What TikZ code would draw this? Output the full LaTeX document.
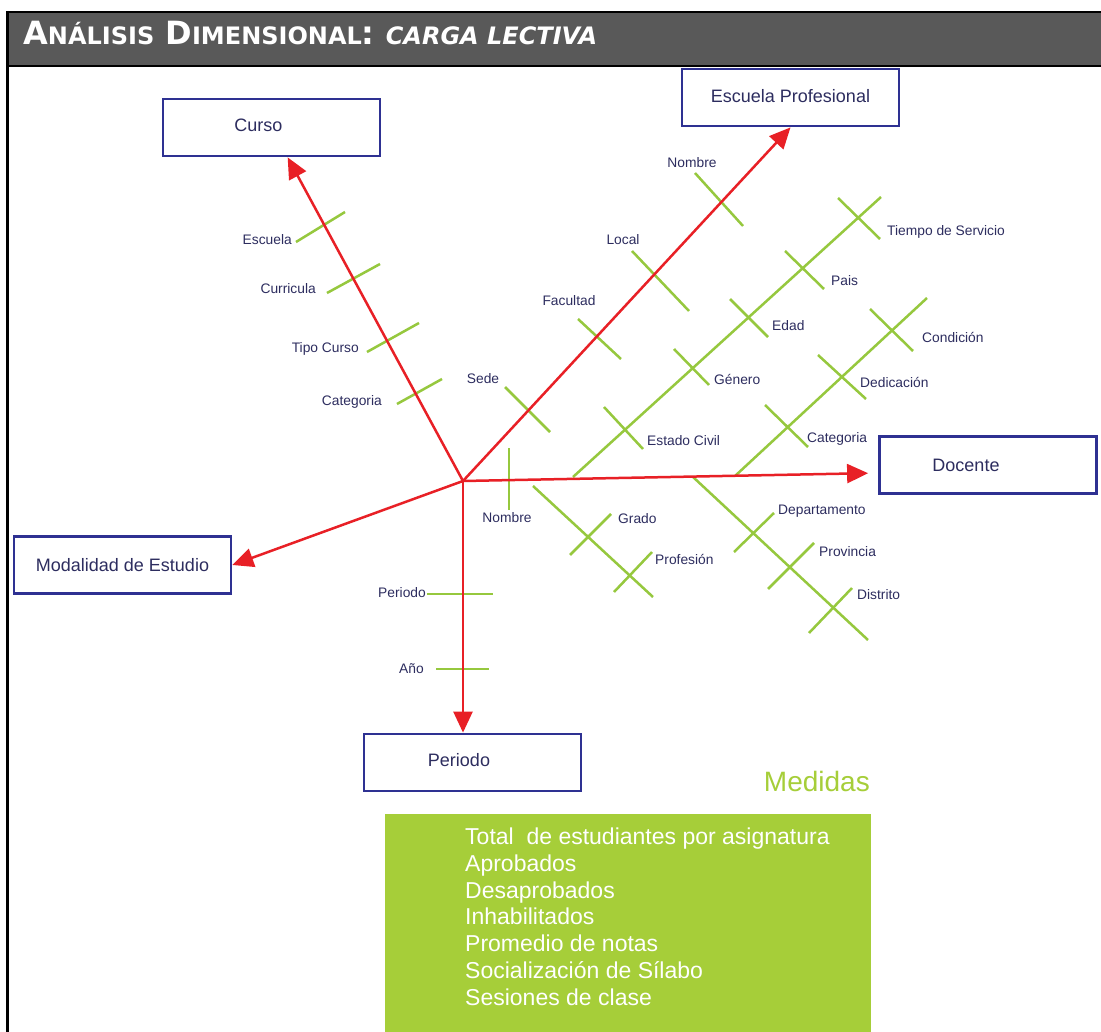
\documentclass[tikz,border=0pt]{standalone}
\usepackage{fontspec}
\setmainfont{Liberation Sans}
\newfontfamily\titlefont{DejaVu Sans}
\usetikzlibrary{arrows.meta}

\definecolor{boxblue}{RGB}{46,49,146}
\definecolor{lblnavy}{RGB}{45,45,95}
\definecolor{axisred}{RGB}{232,32,38}
\definecolor{tickgreen}{RGB}{150,200,62}
\definecolor{medgreen}{RGB}{166,206,57}
\definecolor{headgray}{RGB}{89,89,89}

\newcommand{\smallcap}[1]{{\fontsize{24}{26}\selectfont #1}}

\begin{document}
\begin{tikzpicture}[x=1pt,y=-1pt,
    dimbox/.style={draw=boxblue,line width=2.8pt,fill=white,minimum width=217pt,
        minimum height=57pt,inner sep=0pt,text=lblnavy,font=\fontsize{18}{20}\selectfont},
    axis/.style={draw=axisred,line width=2.5pt,-{Triangle[length=21pt,width=19pt]}},
    tick/.style={draw=tickgreen,line width=2.5pt},
    lbl/.style={text=lblnavy,inner sep=0pt,font=\fontsize{13.8}{15}\selectfont}]
    \useasboundingbox (0,0) rectangle (1101,1032);
    \fill[white] (0,0) rectangle (1101,1032);
    %% Header
    \fill[headgray] (8,12) rectangle (1101,66);
    \draw[line width=2pt] (8,12) -- (1101,12);
    \draw[line width=2pt] (8,66) -- (1101,66);
    \draw[line width=2.5pt] (7.5,11) -- (7.5,1032);
    \node[anchor=base west,inner sep=0pt,text=white] (title) at (23,45)
        {\titlefont\bfseries\fontsize{32}{34}\selectfont A\smallcap{NÁLISIS} D\smallcap{IMENSIONAL}: \itshape\smallcap{CARGA LECTIVA}};
    %% Dimensions
    \coordinate (hub) at (463,481);
    \node[dimbox] (curso) at (271.5,127.5) {\hspace*{-26pt}\raisebox{5pt}{Curso}};
    \node[dimbox] (escuela) at (790.5,97.5) {\raisebox{4pt}{Escuela Profesional}};
    \node[dimbox] (docente) at (988,465) {\hspace*{-44pt}\raisebox{-4pt}{Docente}};
    \node[dimbox] (modalidad) at (122.5,565) {Modalidad de Estudio};
    \node[dimbox] (periodo) at (472.5,762.5) {\hspace*{-27pt}\raisebox{5pt}{Periodo}};
    %% Curso attributes
    \draw[tick] (296,242) -- (345,212);
    \draw[tick] (327,293) -- (380,264);
    \draw[tick] (367,352) -- (419,323);
    \draw[tick] (397,404) -- (442,379);
    \node[lbl,anchor=east] (cEsc) at (292,240) {Escuela};
    \node[lbl,anchor=east] (cCur) at (316,289) {Curricula};
    \node[lbl,anchor=east] (cTip) at (359,349) {Tipo Curso};
    \node[lbl,anchor=east] (cCat) at (382,402) {Categoria};
    %% Escuela Profesional attributes
    \draw[tick] (695,173) -- (743,226);
    \draw[tick] (632,251) -- (689,311);
    \draw[tick] (578,319) -- (621,359);
    \draw[tick] (505,387) -- (550,432);
    \node[lbl] (eNom) at (692,163) {Nombre};
    \node[lbl] (eLoc) at (623,240) {Local};
    \node[lbl] (eFac) at (569,301) {Facultad};
    \node[lbl] (eSed) at (483,379) {Sede};
    %% Docente attributes, upper side
    \draw[tick] (573,477) -- (881,197);
    \draw[tick] (604,407) -- (643,449);
    \draw[tick] (674,349) -- (709,385);
    \draw[tick] (730,299) -- (768,337);
    \draw[tick] (785,251) -- (824,289);
    \draw[tick] (838,198) -- (880,239);
    \node[lbl,anchor=west] (dEst) at (647,441) {Estado Civil};
    \node[lbl,anchor=west] (dGen) at (714,379) {Género};
    \node[lbl,anchor=west] (dEda) at (772,326) {Edad};
    \node[lbl,anchor=west] (dPai) at (831,281) {Pais};
    \node[lbl,anchor=west] (dTie) at (887,232) {Tiempo de Servicio};
    \draw[tick] (735,476) -- (927,298);
    \draw[tick] (765,405) -- (808,447);
    \draw[tick] (818,355) -- (866,399);
    \draw[tick] (870,309) -- (913,351);
    \node[lbl,anchor=west] (dCat) at (807,439) {Categoria};
    \node[lbl,anchor=west] (dDed) at (860,382) {Dedicación};
    \node[lbl,anchor=west] (dCon) at (922,337) {Condición};
    %% Docente attributes, lower side
    \draw[tick] (509,448) -- (509,510);
    \node[lbl] (dNom) at (507,518) {Nombre};
    \draw[tick] (533,486) -- (653,597);
    \draw[tick] (570,555) -- (611,514);
    \draw[tick] (614,592) -- (652,552);
    \node[lbl,anchor=west] (dGra) at (618,519) {Grado};
    \node[lbl,anchor=west] (dPro) at (655,559) {Profesión};
    \draw[tick] (693,477) -- (868,640);
    \draw[tick] (734,552) -- (774,513);
    \draw[tick] (768,589) -- (814,543);
    \draw[tick] (809,633) -- (852,588);
    \node[lbl,anchor=west] (dDep) at (778,511) {Departamento};
    \node[lbl,anchor=west] (dPrv) at (819,552) {Provincia};
    \node[lbl,anchor=west] (dDis) at (857,595) {Distrito};
    %% Periodo attributes
    \draw[tick] (427,594) -- (493,594);
    \draw[tick] (436,669) -- (489,669);
    \node[lbl,anchor=east] (pPer) at (426,593) {Periodo};
    \node[lbl,anchor=east] (pAno) at (424,669) {Año};
    %% Axes
    \draw[axis] (hub) -- (curso);
    \draw[axis] (hub) -- (escuela.south);
    \draw[axis,shorten >=10pt] (hub) -- ([yshift=-8pt]docente.west);
    \draw[axis] (hub) -- (modalidad.east);
    \draw[axis] (hub) -- (periodo.north -| hub);
    %% Measures
    \node[anchor=east,inner sep=0pt,text=medgreen,font=\fontsize{28}{30}\selectfont] (medidas) at (870,781) {Medidas};
    \fill[medgreen] (385,814) rectangle (871,1032);
    \node[anchor=north west,inner sep=0pt,text=white,align=left,
        font=\fontsize{23}{26.7}\selectfont] (medlist) at (465,828)
        {Total\ \ de estudiantes por asignatura\\Aprobados\\Desaprobados\\Inhabilitados\\Promedio de notas\\Socialización de Sílabo\\Sesiones de clase};
\end{tikzpicture}
\end{document}
